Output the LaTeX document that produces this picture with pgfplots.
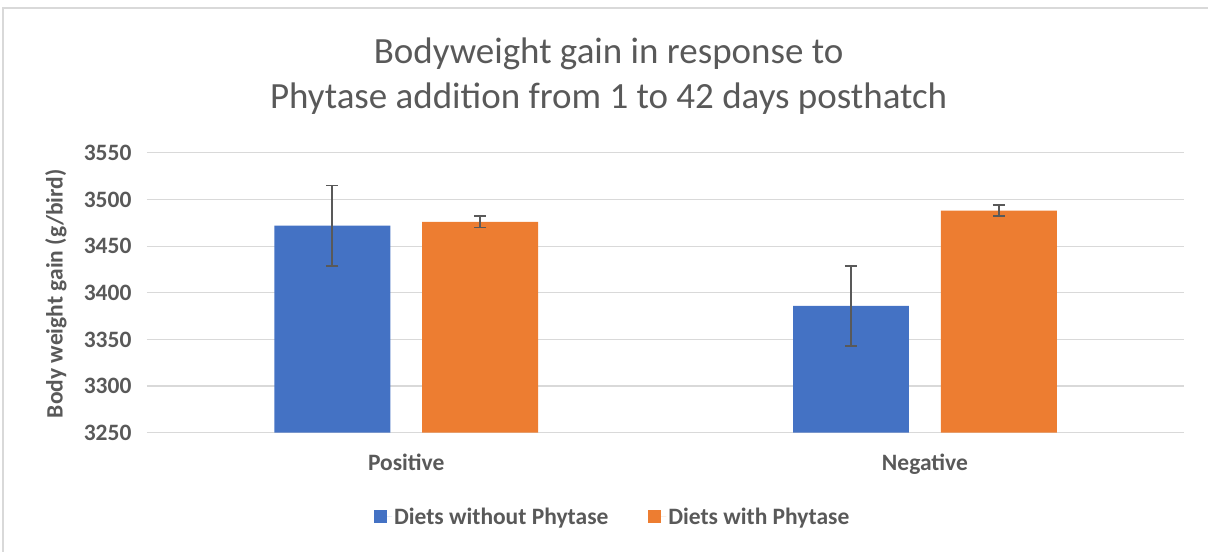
\documentclass[border=0pt]{standalone}
\usepackage{pgfplots}
\pgfplotsset{compat=1.18}
\usepackage{fontspec}
\setmainfont{Carlito}
\definecolor{cblue}{HTML}{4472C4}
\definecolor{corange}{HTML}{ED7D31}
\definecolor{ctext}{HTML}{595959}
\definecolor{cgrid}{HTML}{D9D9D9}
\begin{document}
\begin{tikzpicture}[x=1bp,y=1bp]
\path (0,0) rectangle (1209,552);
\draw[cgrid, line width=1.5bp] (3,0) -- (3,544) -- (1209,544);
\begin{axis}[
  at={(147bp,119bp)}, anchor=south west,
  scale only axis, width=1038bp, height=280bp,
  ybar=32bp, bar width=116bp,
  xmin=-0.5, xmax=1.5, ymin=3250, ymax=3550,
  xtick={0,1}, xticklabels={Positive,Negative},
  ytick={3250,3300,...,3550},
  axis line style={draw=none},
  tick style={draw=none},
  ymajorgrids, grid style={cgrid, line width=1.2bp},
  ticklabel style={font=\fontsize{23.5bp}{28bp}\selectfont\bfseries, text=ctext},
  /pgf/number format/assume math mode=true,
  /pgf/number format/1000 sep={},
  yticklabel style={xshift=-12bp},
  xticklabel style={yshift=-14bp},
  legend style={at={(0.449,-0.3)}, anchor=center, draw=none, legend columns=2,
    font=\fontsize{23.5bp}{28bp}\selectfont\bfseries, text=ctext,
    /tikz/every even column/.append style={column sep=38bp}},
  legend image code/.code={\fill[#1] (0bp,-6.5bp) rectangle (13bp,6.5bp); \path (0bp,0bp) -- (18bp,0bp);},
  error bars/error bar style={ctext, line width=1.8bp},
  error bars/error mark options={rotate=90, mark size=6bp, line width=1.8bp, ctext},
]
\addplot[fill=cblue, draw=none, error bars/.cd, y dir=both, y explicit]
  coordinates {(0,3472) +- (0,43) (1,3386) +- (0,43)};
\addplot[fill=corange, draw=none, error bars/.cd, y dir=both, y explicit]
  coordinates {(0,3476) +- (0,6) (1,3488) +- (0,6)};
\legend{Diets without Phytase, Diets with Phytase}
\end{axis}
\node[anchor=base, text=ctext, font=\fontsize{37bp}{44bp}\selectfont] at (609,488) {Bodyweight gain in response to};
\node[anchor=base, text=ctext, font=\fontsize{37bp}{44bp}\selectfont] at (609,443) {Phytase addition from 1 to 42 days posthatch};
\node[rotate=90, text=ctext, font=\fontsize{23.5bp}{28bp}\selectfont\bfseries] at (56,258) {Body weight gain (g/bird)};
\end{tikzpicture}
\end{document}
